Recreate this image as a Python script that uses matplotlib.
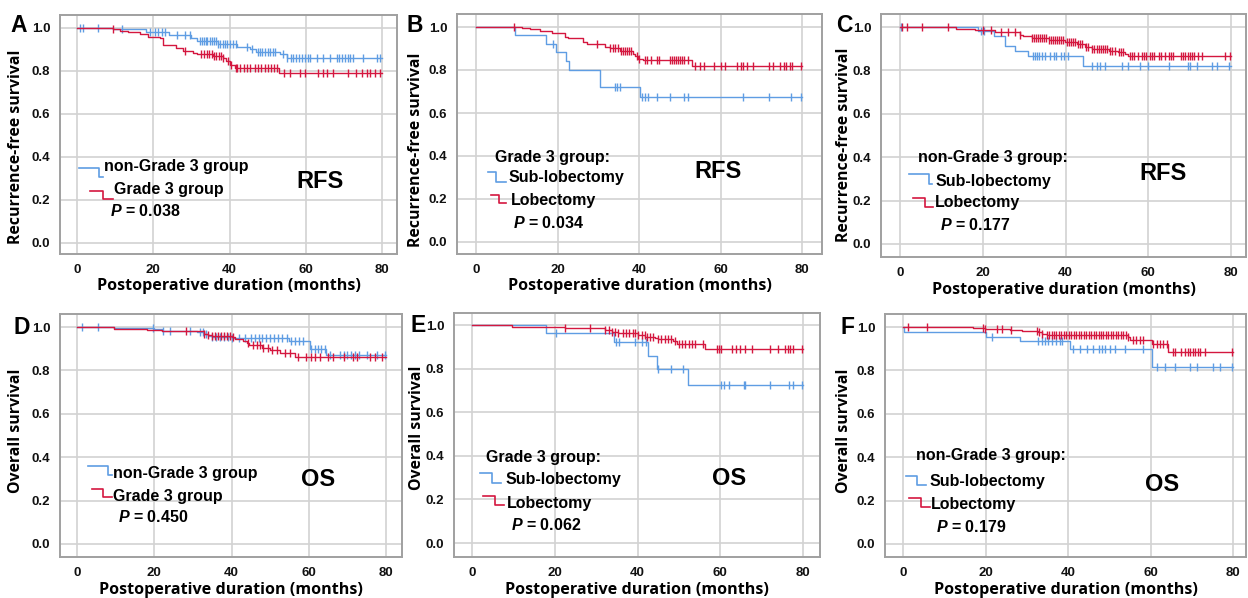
import numpy as np
import matplotlib
matplotlib.use("Agg")
import matplotlib.pyplot as plt

plt.rcParams['mathtext.fontset'] = 'custom'
plt.rcParams['mathtext.bfit'] = 'Liberation Sans:italic:bold'
plt.rcParams['mathtext.rm'] = 'Liberation Sans'

BLUE = '#5f9de3'
RED = '#d4173f'

# ---------------- data ----------------
# Panel A: RFS, non-Grade 3 vs Grade 3
A_blue_t = [9.5, 18.0, 24.0, 30.0, 31.4, 37.0, 42.0, 45.4, 47.0, 53.2, 55.0]
A_blue_s = [0.994, 0.983, 0.967, 0.955, 0.94, 0.926, 0.913, 0.90, 0.89, 0.88, 0.862]
A_blue_c = [0.8, 1.7, 5.6, 11.7, 19.1, 20.5, 21.3, 22.2, 23.1, 26.1, 28.3, 29.6, 32.3, 32.8, 33.3,
            33.8, 34.2, 34.8, 35.3, 35.9, 36.5, 37.0, 37.6, 38.2, 38.8, 39.4, 40.1, 41.0, 41.8, 44.5,
            45.8, 47.6, 48.1, 48.6, 49.3, 50.0, 50.6, 51.3, 52.0, 54.1, 55.0, 56.0, 56.7, 57.5, 58.2,
            59.0, 59.7, 60.5, 61.2, 62.9, 64.6, 66.3, 68.1, 68.8, 69.5, 70.3, 71.0, 71.7, 72.5, 75.1,
            78.6, 79.5]
A_red_t = [9.5, 11.3, 13.5, 16.5, 18.7, 21.8, 22.6, 26.0, 27.9, 30.5, 31.4, 35.8, 38.4, 39.2, 40.1, 41.4, 53.0]
A_red_s = [0.994, 0.986, 0.98, 0.972, 0.96, 0.953, 0.92, 0.905, 0.895, 0.885, 0.88, 0.87, 0.86, 0.845,
           0.83, 0.813, 0.793]
A_red_c = [9.5, 28.3, 32.5, 33.3, 34.0, 34.6, 35.3, 35.9, 36.5, 37.2, 37.9, 38.4, 39.5, 40.5, 41.6,
           42.0, 42.8, 43.7, 44.5, 45.5, 46.6, 47.5, 48.3, 49.2, 50.0, 50.8, 51.6, 52.4, 54.2, 55.9,
           58.5, 59.8, 63.3, 64.6, 65.5, 67.2, 71.2, 73.3, 74.7, 76.0, 76.8, 78.1, 79.5]

# Panel B: RFS, Grade 3 group, Sub-lobectomy vs Lobectomy
B_blue_t = [9.6, 17.3, 19.6, 22.2, 22.7, 30.4, 40.2]
B_blue_s = [0.965, 0.923, 0.883, 0.84, 0.80, 0.72, 0.673]
B_blue_c = [18.8, 34.1, 34.5, 35.3, 40.7, 41.5, 42.3, 44.3, 47.6, 51.0, 52.0, 65.4, 72.0, 77.2, 79.8]
B_red_t = [11.2, 13.2, 15.7, 18.6, 21.8, 22.6, 26.3, 27.2, 31.7, 32.9, 35.3, 38.6, 39.0, 39.8, 41.0, 53.1]
B_red_s = [0.994, 0.989, 0.98, 0.97, 0.955, 0.947, 0.93, 0.92, 0.907, 0.90, 0.89, 0.875, 0.863,
           0.852, 0.845, 0.82]
B_red_c = [9.3, 29.6, 33.0, 33.5, 34.0, 34.8, 35.5, 36.0, 36.5, 37.0, 37.5, 38.0, 39.5, 40.0, 41.5,
           42.0, 43.0, 44.5, 45.0, 47.5, 48.0, 48.5, 49.0, 49.5, 50.0, 50.5, 51.0, 52.0, 53.8, 55.0,
           56.0, 58.5, 60.0, 61.0, 64.0, 65.0, 65.5, 66.5, 68.0, 72.0, 73.0, 74.5, 75.5, 76.0, 77.0,
           77.5, 79.8]

# Panel C: RFS, non-Grade 3 group, Sub-lobectomy vs Lobectomy
C_blue_t = [18.9, 22.6, 25.4, 27.8, 30.9, 44.3]
C_blue_s = [0.983, 0.958, 0.913, 0.89, 0.865, 0.822]
C_blue_c = [0.3, 19.6, 20.4, 32.2, 32.7, 33.2, 33.7, 34.3, 35.0, 36.3, 37.3, 37.8, 39.0, 39.7, 40.7,
            46.3, 47.5, 48.3, 49.6, 53.6, 55.2, 58.0, 60.0, 64.9, 69.7, 70.2, 71.7, 75.3, 76.5, 79.4]
C_red_t = [13.5, 18.1, 23.0, 29.0, 29.8, 31.8, 35.9, 39.9, 42.7, 44.7, 46.3, 50.4, 52.8, 54.4, 55.2]
C_red_s = [0.99, 0.985, 0.977, 0.965, 0.958, 0.95, 0.94, 0.93, 0.92, 0.91, 0.90, 0.89, 0.885, 0.875, 0.865]
C_red_c = [0.4, 1.6, 5.2, 11.7, 20.0, 22.0, 24.5, 26.2, 27.8, 29.0, 31.8, 32.3, 32.8, 33.3, 33.8,
           34.3, 34.8, 35.3, 36.0, 36.5, 37.0, 37.5, 38.0, 38.5, 39.0, 39.5, 40.3, 40.8, 41.3, 41.8,
           42.3, 43.0, 43.5, 44.0, 45.0, 45.5, 46.5, 47.0, 47.5, 48.0, 48.5, 49.0, 49.5, 50.0, 50.8,
           51.3, 52.0, 53.0, 53.5, 54.0, 55.5, 56.0, 56.5, 57.5, 58.5, 59.0, 59.5, 60.5, 61.0, 61.5,
           62.5, 63.0, 64.0, 65.0, 65.5, 66.0, 68.0, 68.5, 69.0, 69.5, 70.0, 70.5, 71.0, 72.0, 73.0,
           78.6, 79.8]

# Panel D: OS, non-Grade 3 vs Grade 3
D_blue_t = [9.5, 20.0, 22.0, 31.0, 33.0, 34.0, 35.0, 40.0, 55.0, 60.3, 64.5]
D_blue_s = [0.995, 0.99, 0.982, 0.976, 0.966, 0.96, 0.955, 0.949, 0.935, 0.90, 0.872]
D_blue_c = [1.4, 5.4, 19.7, 22.3, 24.0, 29.2, 31.8, 32.6, 33.5, 35.0, 36.0, 37.0, 38.0, 39.0, 40.0,
            42.0, 43.5, 45.0, 46.0, 47.0, 48.0, 49.0, 50.0, 51.0, 52.0, 53.0, 54.3, 55.5, 56.5, 57.5,
            58.6, 60.7, 61.5, 62.5, 63.3, 64.2, 65.5, 68.0, 69.0, 70.0, 71.0, 72.0, 73.0, 75.0, 77.6,
            79.7]
D_red_t = [9.5, 18.0, 22.0, 33.0, 34.0, 35.0, 40.0, 41.0, 43.0, 44.0, 44.5, 48.0, 50.0, 52.5, 56.5]
D_red_s = [0.993, 0.988, 0.98, 0.97, 0.963, 0.958, 0.953, 0.945, 0.935, 0.925, 0.915, 0.905, 0.895,
           0.88, 0.86]
D_red_c = [28.3, 33.0, 34.0, 35.0, 35.8, 36.5, 37.3, 38.0, 38.8, 39.5, 40.4, 44.3, 45.6, 46.5, 47.4,
           48.2, 49.5, 50.5, 51.7, 53.8, 55.1, 57.3, 59.4, 60.5, 61.7, 62.9, 65.0, 66.4, 69.0, 71.5,
           72.4, 75.9, 77.1, 78.9]

# Panel E: OS, Grade 3 group, Sub-lobectomy vs Lobectomy
E_blue_t = [18.0, 34.2, 42.5, 44.6, 52.1]
E_blue_s = [0.965, 0.92, 0.86, 0.80, 0.725]
E_blue_c = [20.2, 34.8, 35.5, 39.5, 41.0, 42.0, 45.0, 48.0, 51.0, 60.3, 60.8, 62.0, 65.8, 66.0,
            72.0, 76.5, 77.5, 79.8]
E_red_t = [9.6, 22.5, 32.1, 33.8, 35.4, 40.2, 41.8, 44.2, 45.0, 48.7, 49.5, 56.3]
E_red_s = [0.993, 0.985, 0.978, 0.97, 0.962, 0.955, 0.947, 0.94, 0.935, 0.925, 0.915, 0.89]
E_red_c = [22.5, 28.5, 32.2, 33.0, 33.8, 34.6, 35.4, 36.6, 37.3, 38.0, 38.8, 39.5, 40.2, 41.0, 41.7,
           42.4, 43.1, 43.8, 45.0, 45.8, 46.6, 47.4, 48.2, 49.0, 50.0, 50.8, 51.6, 52.4, 53.2, 54.0,
           55.9, 59.1, 59.7, 60.3, 62.8, 63.8, 64.8, 66.0, 67.6, 72.0, 74.0, 75.7, 76.3, 76.9, 77.7,
           79.7]

# Panel F: OS, non-Grade 3 group, Sub-lobectomy vs Lobectomy
F_blue_t = [0.3, 20.0, 28.4, 40.5, 60.3]
F_blue_s = [0.978, 0.956, 0.935, 0.898, 0.815]
F_blue_c = [21.5, 32.8, 33.6, 34.4, 35.2, 36.0, 37.2, 38.0, 38.5, 41.3, 42.9, 44.5, 46.0, 47.5, 48.3,
            49.0, 50.3, 51.4, 53.8, 58.3, 61.5, 63.5, 66.0, 69.6, 71.2, 75.2, 76.8, 79.7]
F_red_t = [17.0, 19.9, 25.9, 28.8, 32.8, 33.6, 34.8, 54.6, 55.0, 60.3, 64.3]
F_red_s = [0.995, 0.99, 0.985, 0.98, 0.975, 0.97, 0.963, 0.955, 0.94, 0.92, 0.885]
F_red_c = [1.3, 5.7, 19.5, 19.9, 22.7, 23.9, 26.3, 32.4, 33.0, 33.6, 34.8, 35.4, 36.0, 36.6, 37.2,
           37.8, 38.4, 39.0, 39.6, 40.2, 40.8, 41.4, 42.0, 42.6, 43.2, 43.8, 44.4, 45.0, 45.6, 46.2,
           46.8, 47.4, 48.0, 48.6, 49.2, 49.8, 50.4, 51.0, 51.6, 52.2, 52.8, 53.4, 54.0, 54.6, 55.8,
           56.6, 57.4, 58.3, 60.7, 61.5, 62.3, 63.1, 63.9, 65.5, 66.0, 67.5, 68.3, 69.0, 69.6, 70.2,
           70.8, 71.4, 72.0, 73.2, 79.8]

# labels
x_ticks = [0, 20, 40, 60, 80]
y_ticks = [0.0, 0.2, 0.4, 0.6, 0.8, 1.0]
xlab = "Postoperative duration (months)"
ylab_rfs = "Recurrence-free survival"
ylab_os = "Overall survival"

W, H = 1248, 598
fig = plt.figure(figsize=(W / 100, H / 100), dpi=100)

LBL_FONT = ['Open Sans', 'DejaVu Sans']
TXT_FONT = ['Liberation Sans', 'DejaVu Sans']
LEG_FS = 11.5


def surv_at(t, s, x):
    t = np.asarray(t); s = np.r_[1.0, s]
    idx = np.searchsorted(t, x, side='right')
    return s[idx]


def make_ax(px_box, x0px, x80px, y1px, y0px):
    l, r, top, bot = px_box
    ax = fig.add_axes([l / W, 1 - bot / H, (r - l) / W, (bot - top) / H])
    sx = (x80px - x0px) / 80.0
    sy = (y0px - y1px)
    ax.set_xlim(-(x0px - l) / sx, 80 + (r - x80px) / sx)
    ax.set_ylim(-(bot - y0px) / sy, 1 + (y1px - top) / sy)
    ax.set_xticks(x_ticks)
    ax.set_yticks(y_ticks)
    ax.set_xticklabels([str(v) for v in x_ticks], fontweight='bold', fontsize=9.5, family=TXT_FONT)
    ax.set_yticklabels([f"{v:.1f}" for v in y_ticks], fontweight='bold', fontsize=9.5, family=TXT_FONT)
    ax.tick_params(length=0, pad=7, colors='#111111')
    ax.grid(True, color='#d2d2d2', lw=1.2)
    ax.set_axisbelow(True)
    for sp in ax.spines.values():
        sp.set_color('#a0a0a0'); sp.set_linewidth(1.4)
    return ax


def draw_curve(ax, t, s, c, color):
    xs = np.r_[0.0, t, 80.0]
    ys = np.r_[1.0, s, s[-1]]
    ax.step(xs, ys, where='post', color=color, lw=1.0)
    cx = np.asarray(c)
    ax.plot(cx, surv_at(t, s, cx), ls='none', marker='|', ms=6, mew=1.0, color=color)


def glyph(ax, x1, x2, x3, ya, yb, color):
    ax.plot([x1, x2, x2, x3], [ya, ya, yb, yb], color=color, lw=1.2, clip_on=False)


panels = [
    dict(box=(60, 397, 15, 254), cal=(77, 382, 28, 243), bt=A_blue_t, bs=A_blue_s, bc=A_blue_c,
         rt=A_red_t, rs=A_red_s, rc=A_red_c, ylab=ylab_rfs, ylc=(-0.107, 0.448),
         letter='A', lpos=(19, 26), tag='RFS',
         tagpos=(63.7, 0.284), header=None,
         bg=(0.5, 5.75, 6.8, 0.349, 0.307), btxt=("non-Grade 3 group", 7.1, 0.358),
         rg=(3.4, 6.8, 9.4, 0.242, 0.205), rtxt=("Grade 3 group", 9.7, 0.251),
         p=("0.038", 8.7, 0.149)),
    dict(box=(457, 822, 14, 254), cal=(476, 802, 27, 242), bt=B_blue_t, bs=B_blue_s, bc=B_blue_c,
         rt=B_red_t, rs=B_red_s, rc=B_red_c, ylab=ylab_rfs, ylc=(-0.09, 0.435),
         letter='B', lpos=(415, 26), tag='RFS',
         tagpos=(59.4, 0.326), header=("Grade 3 group:", 4.7, 0.395),
         bg=(2.9, 4.9, 7.4, 0.326, 0.28), btxt=("Sub-lobectomy", 8.1, 0.298),
         rg=(3.7, 5.6, 7.4, 0.219, 0.181), rtxt=("Lobectomy", 8.6, 0.191),
         p=("0.034", 9.1, 0.088)),
    dict(box=(881, 1246, 14, 257), cal=(900, 1231, 27, 244), bt=C_blue_t, bs=C_blue_s, bc=C_blue_c,
         rt=C_red_t, rs=C_red_s, rc=C_red_c, ylab=ylab_rfs, ylc=(-0.079, 0.46),
         letter='C', lpos=(844, 26), tag='RFS',
         tagpos=(63.6, 0.327), header=("non-Grade 3 group:", 4.35, 0.40),
         bg=(2.2, 7.0, 7.7, 0.323, 0.276), btxt=("Sub-lobectomy", 8.5, 0.29),
         rg=(3.1, 6.0, 8.0, 0.212, 0.17), rtxt=("Lobectomy", 8.5, 0.189),
         p=("0.177", 9.7, 0.088)),
    dict(box=(60, 402, 314, 557), cal=(77, 386, 327, 544), bt=D_blue_t, bs=D_blue_s, bc=D_blue_c,
         rt=D_red_t, rs=D_red_s, rc=D_red_c, ylab=ylab_os, ylc=(-0.105, 0.52),
         letter='D', lpos=(22, 327), tag='OS',
         tagpos=(62.4, 0.295), header=None,
         bg=(2.8, 8.0, 9.0, 0.359, 0.318), btxt=("non-Grade 3 group", 9.3, 0.327),
         rg=(3.9, 6.7, 9.0, 0.253, 0.217), rtxt=("Grade 3 group", 9.3, 0.22),
         p=("0.450", 10.6, 0.124)),
    dict(box=(454, 820, 313, 557), cal=(472, 803, 325, 543), bt=E_blue_t, bs=E_blue_s, bc=E_blue_c,
         rt=E_red_t, rs=E_red_s, rc=E_red_c, ylab=ylab_os, ylc=(-0.079, 0.53),
         letter='E', lpos=(418, 326), tag='OS',
         tagpos=(62.1, 0.298), header=("Grade 3 group:", 3.4, 0.39),
         bg=(1.9, 4.8, 7.0, 0.321, 0.275), btxt=("Sub-lobectomy", 8.0, 0.289),
         rg=(2.7, 5.6, 7.7, 0.216, 0.174), rtxt=("Lobectomy", 8.5, 0.183),
         p=("0.062", 9.4, 0.083)),
    dict(box=(885, 1246, 314, 557), cal=(903, 1233, 327, 544), bt=F_blue_t, bs=F_blue_s, bc=F_blue_c,
         rt=F_red_t, rs=F_red_s, rc=F_red_c, ylab=ylab_os, ylc=(-0.091, 0.52),
         letter='F', lpos=(847, 327), tag='OS',
         tagpos=(62.8, 0.276), header=("non-Grade 3 group:", 3.1, 0.41),
         bg=(0.7, 3.4, 5.6, 0.313, 0.272), btxt=("Sub-lobectomy", 6.5, 0.286),
         rg=(1.5, 4.4, 6.5, 0.212, 0.17), rtxt=("Lobectomy", 6.8, 0.184),
         p=("0.179", 8.0, 0.078)),
]

for P in panels:
    ax = make_ax(P['box'], *P['cal'])
    draw_curve(ax, P['bt'], P['bs'], P['bc'], BLUE)
    draw_curve(ax, P['rt'], P['rs'], P['rc'], RED)
    ax.set_xlabel(xlab, fontsize=11.6, fontweight='bold', family=LBL_FONT, labelpad=2)
    ax.set_ylabel(P['ylab'], fontsize=11.4, fontweight='bold', family=LBL_FONT)
    ax.yaxis.set_label_coords(*P['ylc'])
    fig.text(P['lpos'][0] / W, 1 - P['lpos'][1] / H, P['letter'], fontsize=16.5, fontweight='bold',
             family=TXT_FONT, ha='center', va='center')
    ax.text(P['tagpos'][0], P['tagpos'][1], P['tag'], fontsize=17, fontweight='bold',
            family=TXT_FONT, ha='center', va='center')
    if P['header']:
        ax.text(P['header'][1], P['header'][2], P['header'][0], fontsize=LEG_FS, fontweight='bold',
                family=TXT_FONT, ha='left', va='center')
    glyph(ax, *P['bg'][:3], *P['bg'][3:], BLUE)
    glyph(ax, *P['rg'][:3], *P['rg'][3:], RED)
    ax.text(P['btxt'][1], P['btxt'][2], P['btxt'][0], fontsize=LEG_FS, fontweight='bold',
            family=TXT_FONT, ha='left', va='center')
    ax.text(P['rtxt'][1], P['rtxt'][2], P['rtxt'][0], fontsize=LEG_FS, fontweight='bold',
            family=TXT_FONT, ha='left', va='center')
    ax.text(P['p'][1], P['p'][2], r"$\mathbfit{P}$ = " + P['p'][0], fontsize=LEG_FS,
            fontweight='bold', family=TXT_FONT, ha='left', va='center')

fig.savefig("out.png", dpi=100)
